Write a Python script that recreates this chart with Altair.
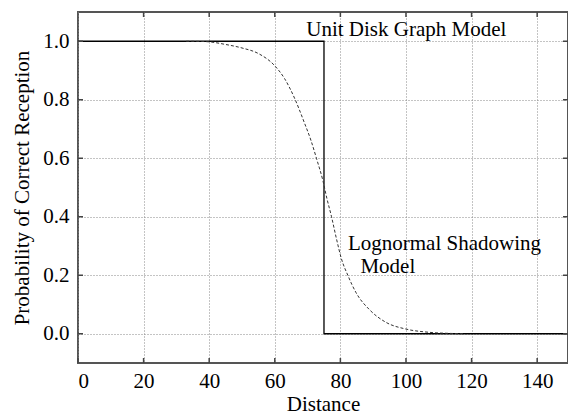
import altair as alt
import pandas as pd

# Unit disk graph model (step)
udg_x = [0, 75, 75, 150]
udg_y = [1.0, 1.0, 0.0, 0.0]

# Lognormal shadowing model
logn_x = [33, 37, 40, 45, 50, 55, 60, 63, 66, 69, 71, 72.7, 74.7, 75.9, 77.3, 78.8, 80.3, 82.3,
          84.8, 88.9, 93.9, 100, 107, 114, 118]
logn_y = [1.0, 0.9995, 0.998, 0.989, 0.977, 0.958, 0.916, 0.872, 0.806, 0.722, 0.662, 0.60, 0.522,
          0.462, 0.40, 0.325, 0.257, 0.199, 0.14, 0.082, 0.039, 0.016, 0.005, 0.001, 0.0]

x_ticks = [0, 20, 40, 60, 80, 100, 120, 140]
y_ticks = [0.0, 0.2, 0.4, 0.6, 0.8, 1.0]

labels = ["Unit Disk Graph Model", "Lognormal Shadowing", "Model"]
label_x = [69.6, 82.3, 86.1]
label_y = [1.017, 0.286, 0.208]

W, H = 490, 351
FONT = "Liberation Serif"
FS = 21

udg = pd.DataFrame({"x": udg_x, "y": udg_y, "o": list(range(len(udg_x)))})
logn = pd.DataFrame({"x": logn_x, "y": logn_y})
txt = pd.DataFrame({"x": label_x, "y": label_y, "t": labels})
xt = pd.DataFrame({"v": x_ticks})
yt = pd.DataFrame({"v": y_ticks})

xs = alt.Scale(domain=[0, 149.4], nice=False, zero=False)
ys = alt.Scale(domain=[-0.1, 1.1], nice=False, zero=False)

xaxis = alt.Axis(values=x_ticks, grid=True, gridDash=[1, 2], gridColor="#888", gridWidth=1,
                 domain=False, ticks=False, labelFont=FONT, labelFontSize=FS, labelColor="black",
                 labelPadding=7, title="Distance", titleFont=FONT, titleFontSize=FS,
                 titleFontWeight="normal", titleColor="black", titlePadding=2)
yaxis = alt.Axis(values=y_ticks, format=".1f", grid=True, gridDash=[1, 2], gridColor="#888", gridWidth=1,
                 domain=False, ticks=False, labelFont=FONT, labelFontSize=FS, labelColor="black",
                 labelPadding=9, title="Probability of Correct Reception", titleFont=FONT,
                 titleFontSize=FS, titleFontWeight="normal", titleColor="black", titlePadding=10)

step = alt.Chart(udg).mark_line(color="black", strokeWidth=1.3, clip=True).encode(
    x=alt.X("x:Q", scale=xs, axis=xaxis),
    y=alt.Y("y:Q", scale=ys, axis=yaxis),
    order="o:Q",
)

curve = alt.Chart(logn).mark_line(color="#333", strokeWidth=1, strokeDash=[3, 2],
                                   interpolate="monotone").encode(
    x=alt.X("x:Q", scale=xs),
    y=alt.Y("y:Q", scale=ys),
)

text = alt.Chart(txt).mark_text(align="left", baseline="alphabetic", font=FONT, fontSize=FS,
                                color="black").encode(
    x=alt.X("x:Q", scale=xs), y=alt.Y("y:Q", scale=ys), text="t:N")

tick_col = "#444"
bt = alt.Chart(xt).mark_rule(color=tick_col, strokeWidth=1.5).encode(
    x=alt.X("v:Q", scale=xs), y=alt.value(H), y2=alt.value(H - 5))
tt = alt.Chart(xt[xt.v > 0]).mark_rule(color=tick_col, strokeWidth=1.5).encode(
    x=alt.X("v:Q", scale=xs), y=alt.value(0), y2=alt.value(5))
lt = alt.Chart(yt).mark_rule(color=tick_col, strokeWidth=1.5).encode(
    y=alt.Y("v:Q", scale=ys), x=alt.value(0), x2=alt.value(5))
rt = alt.Chart(yt).mark_rule(color=tick_col, strokeWidth=1.5).encode(
    y=alt.Y("v:Q", scale=ys), x=alt.value(W), x2=alt.value(W - 5))

chart = alt.layer(step, curve, text, bt, tt, lt, rt).properties(
    width=W, height=H,
    autosize=alt.AutoSizeParams(type="none"),
    padding={"left": 78, "top": 12, "right": 0, "bottom": 52},
    background="white",
).configure_view(stroke="#555", strokeWidth=2)

chart.save("out.html", embed_options={"renderer": "svg", "actions": False})
